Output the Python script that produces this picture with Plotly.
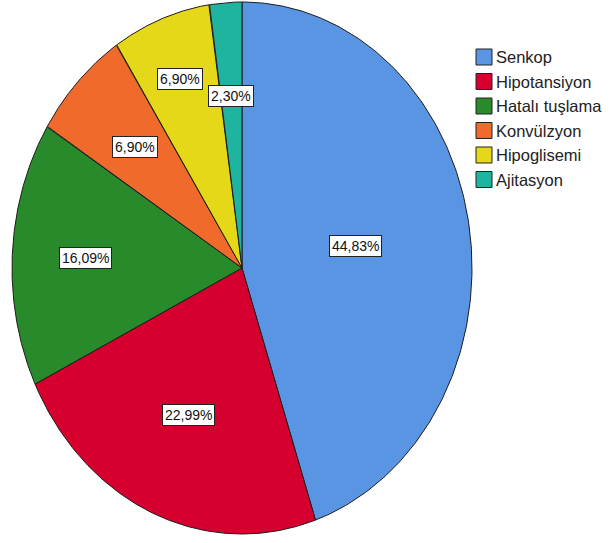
import numpy as np
import plotly.graph_objects as go

# Category shares (percent of cases)
categories = ["Senkop", "Hipotansiyon", "Hatalı tuşlama", "Konvülzyon", "Hipoglisemi", "Ajitasyon"]
shares = [44.83, 22.99, 16.09, 6.90, 6.90, 2.30]
value_labels = ["44,83%", "22,99%", "16,09%", "6,90%", "6,90%", "2,30%"]

# Styling
colors = ["#5A95E4", "#D6002E", "#288A2B", "#EF6A2B", "#E4D818", "#1EB4A0"]
label_radius = [0.50, 0.60, 0.68, 0.65, 0.76, 0.65]
W, H = 611, 543

fig = go.Figure()

total = sum(shares)
start = 0.0
for name, val, col, txt, lr in zip(categories, shares, colors, value_labels, label_radius):
    frac0 = start / total
    frac1 = (start + val) / total
    # clockwise from 12 o'clock
    th = np.pi / 2 - 2 * np.pi * np.linspace(frac0, frac1, 200)
    xs = np.concatenate([[0.0], np.cos(th), [0.0]])
    ys = np.concatenate([[0.0], np.sin(th), [0.0]])
    fig.add_trace(go.Scatter(
        x=xs, y=ys, mode="lines", fill="toself", fillcolor=col,
        line=dict(color="#1c1c1c", width=1), name=name,
        showlegend=False, hoverinfo="name",
    ))
    mid = np.pi / 2 - 2 * np.pi * (frac0 + frac1) / 2
    fig.add_annotation(
        x=lr * np.cos(mid), y=lr * np.sin(mid), xref="x", yref="y",
        text=txt, showarrow=False,
        font=dict(family="Liberation Sans Narrow, Arial Narrow, Liberation Sans", size=14, color="#111111"),
        bgcolor="white", bordercolor="#222222", borderwidth=1, borderpad=2,
    )
    start += val

# Legend: swatch + label per category
for i, (name, col) in enumerate(zip(categories, colors)):
    yc = 57 + 24.5 * i
    fig.add_shape(
        type="rect", xref="paper", yref="paper",
        x0=476 / W, x1=492 / W, y0=1 - (yc + 8) / H, y1=1 - (yc - 8) / H,
        fillcolor=col, line=dict(color="#222222", width=1),
    )
    fig.add_annotation(
        x=494 / W, y=1 - yc / H, xref="paper", yref="paper",
        text=name, showarrow=False, xanchor="left", yanchor="middle",
        font=dict(family="Liberation Sans, Arial", size=16.5, color="#222222"),
    )

cx, cy, rx, ry = 242, 268, 230, 266
fig.update_xaxes(range=[-cx / rx, (W - cx) / rx], visible=False, fixedrange=True)
fig.update_yaxes(range=[-(H - cy) / ry, cy / ry], visible=False, fixedrange=True)
fig.update_layout(
    width=W, height=H, margin=dict(l=0, r=0, t=0, b=0),
    paper_bgcolor="white", plot_bgcolor="white", showlegend=False,
)

fig.write_html("out.html")
